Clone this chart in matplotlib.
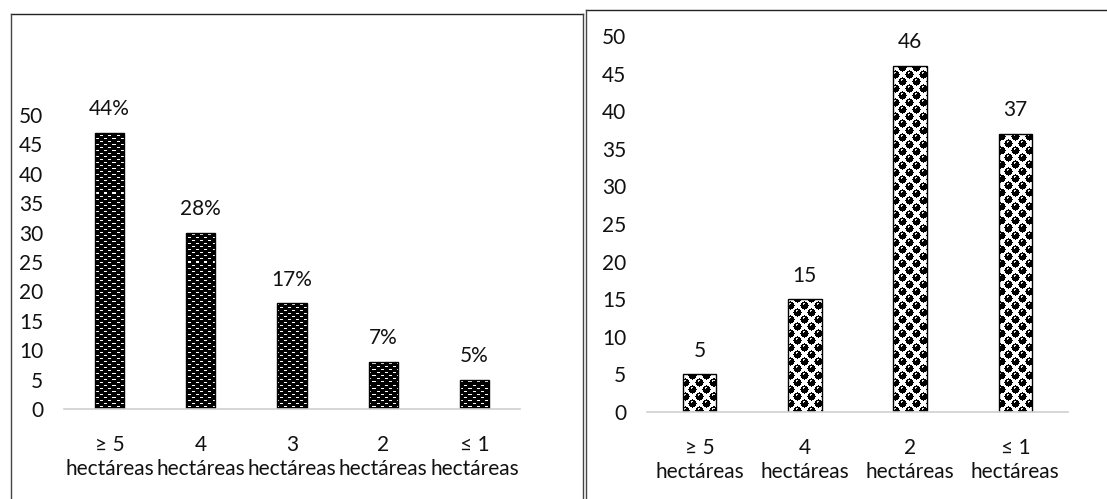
import numpy as np
import matplotlib
matplotlib.use("Agg")
import matplotlib.pyplot as plt
from matplotlib.lines import Line2D

# ---- data ----
left_categories = ["≥ 5\nhectáreas", "4\nhectáreas", "3\nhectáreas", "2\nhectáreas", "≤ 1\nhectáreas"]
left_values = [47, 30, 18, 8, 5]
left_labels = ["44%", "28%", "17%", "7%", "5%"]

right_categories = ["≥ 5\nhectáreas", "4\nhectáreas", "2\nhectáreas", "≤ 1\nhectáreas"]
right_values = [5, 15, 46, 37]
right_labels = ["5", "15", "46", "37"]

y_ticks = [0, 5, 10, 15, 20, 25, 30, 35, 40, 45, 50]

W, H = 1107, 499
DPI = 100
plt.rcParams["font.family"] = ["Lato", "DejaVu Sans"]
FS = 15
TXT = "#111111"

fig = plt.figure(figsize=(W / DPI, H / DPI), dpi=DPI)


def px_axes(x0, y0, x1, y1):
    """Axes from pixel box (top-left origin)."""
    return fig.add_axes([x0 / W, (H - y1) / H, (x1 - x0) / W, (y1 - y0) / H])


def brick_tile():
    t = np.zeros((6, 8))
    t[0, 0:3] = 1.0
    t[3, 4:7] = 1.0
    return t


def sphere_tile():
    n = 14
    t = np.ones((n, n))
    yy, xx = np.mgrid[0:n, 0:n]
    centers = [(3.5, 3.5), (10.5, 10.5)]
    for cy, cx in centers:
        for oy in (-n, 0, n):
            for ox in (-n, 0, n):
                d = np.hypot(yy + 0.5 - (cy + oy), xx + 0.5 - (cx + ox))
                t[d < 4.1] = 0.0
    for cy, cx in centers:
        hl = np.hypot(yy + 0.5 - (cy - 1.8), xx + 0.5 - (cx - 0.8))
        t[hl < 0.9] = 0.9
    return t


def texture_bars(ax, bars, tile):
    bb = ax.get_window_extent()
    w, h = int(round(bb.width)), int(round(bb.height))
    reps = (h // tile.shape[0] + 2, w // tile.shape[1] + 2)
    img = np.tile(tile, reps)[:h, :w]
    xl, yl = ax.get_xlim(), ax.get_ylim()
    for b in bars:
        im = ax.imshow(img, cmap="gray", vmin=0, vmax=1, extent=(xl[0], xl[1], yl[0], yl[1]),
                       aspect="auto", interpolation="nearest", origin="upper", zorder=2)
        im.set_clip_path(b)
    ax.set_xlim(xl)
    ax.set_ylim(yl)


def draw_chart(ax, cats, vals, labels, tile):
    x = np.arange(len(cats))
    ax.set_xlim(-0.5, len(cats) - 0.5)
    ax.set_ylim(0, 50)
    bars = ax.bar(x, vals, width=0.32, color="black", edgecolor="none", zorder=1)
    texture_bars(ax, bars, tile)
    ax.bar(x, vals, width=0.32, facecolor="none", edgecolor="black", linewidth=1.0, zorder=3)
    for xi, v, lab in zip(x, vals, labels):
        ax.annotate(lab, (xi, v), xytext=(0, 17), textcoords="offset points",
                    ha="center", va="center", fontsize=FS, color=TXT)
    for s in ["top", "right", "left"]:
        ax.spines[s].set_visible(False)
    ax.spines["bottom"].set_color("#d0d0d0")
    ax.spines["bottom"].set_linewidth(1.2)
    ax.spines["bottom"].set_zorder(4)
    ax.set_yticks(y_ticks)
    ax.set_yticklabels([str(t) for t in y_ticks])
    ax.set_xticks(x)
    ax.set_xticklabels(cats, linespacing=1.2)
    ax.tick_params(axis="y", length=0, pad=15, labelsize=FS, labelcolor=TXT)
    ax.tick_params(axis="x", length=0, pad=19, labelsize=FS, labelcolor=TXT)
    ax.patch.set_alpha(0)


ax1 = px_axes(64, 115, 520, 409)
draw_chart(ax1, left_categories, left_values, left_labels, brick_tile())

ax2 = px_axes(647, 36, 1068, 412)
draw_chart(ax2, right_categories, right_values, right_labels, sphere_tile())


# ---- panel frames ----
def fline(xs, ys, color="#222222", lw=1.0):
    fig.add_artist(Line2D([x / W for x in xs], [1 - y / H for y in ys], color=color,
                          linewidth=lw, transform=fig.transFigure))


fline([11, 583], [14, 14])
fline([11, 11], [14, 499], color="#444444")
fline([583, 583], [14, 499], color="#444444")
fline([586, 1107], [10, 10])
fline([586, 586], [10, 499], color="#444444")

fig.savefig("out.png", dpi=DPI)
